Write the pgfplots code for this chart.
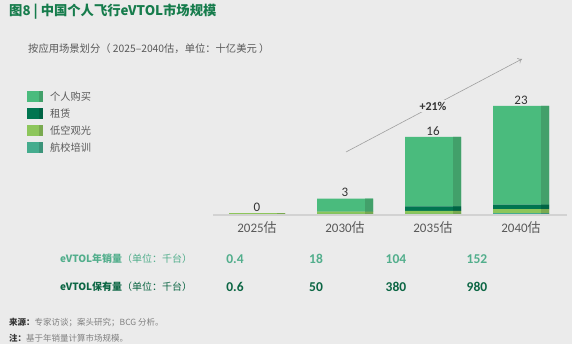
\documentclass[border=0pt]{standalone}
\usepackage{fontspec}
\setmainfont{Carlito}
\newfontfamily\cjk{Noto Sans CJK SC}
\usepackage{pgfplots}
\pgfplotsset{compat=1.18}
\usetikzlibrary{arrows.meta}
\definecolor{bg}{RGB}{235,235,235}
\definecolor{cPers}{RGB}{74,187,125}
\definecolor{cPersD}{RGB}{66,160,106}
\definecolor{cRent}{RGB}{0,117,80}
\definecolor{cRentD}{RGB}{0,100,68}
\definecolor{cSight}{RGB}{141,198,91}
\definecolor{cSightD}{RGB}{122,170,80}
\definecolor{cTrain}{RGB}{69,172,142}
\definecolor{cTrainD}{RGB}{60,148,122}
\definecolor{titleg}{RGB}{22,124,76}
\definecolor{txt}{RGB}{89,89,89}
\definecolor{dark}{RGB}{51,51,51}
\definecolor{row1}{RGB}{82,174,140}
\definecolor{row2}{RGB}{12,102,68}
\definecolor{axisgray}{RGB}{210,210,210}

\pgfplotstableread{
x train sight rent pers total
0 0.00 0.20 0.00 0.00 0.2
1 0.05 0.43 0.05 2.72 3.25
2 0.05 0.64 0.92 14.79 16.4
3 0.20 0.85 0.92 21.03 23.0
}\datatab

\tikzset{vallab/.style={anchor=south, inner sep=1.5pt, text=dark, font=\fontsize{13}{15}\selectfont}}

\begin{document}
\begin{tikzpicture}[x=1pt,y=1pt]
\fill[bg] (0,0) rectangle (572,344);
\useasboundingbox (0,0) rectangle (572,344);
% baseline
\draw[axisgray, line width=2pt] (213,129) -- (567,129);

\begin{axis}[
  at={(213pt,130pt)}, anchor=south west,
  x=88pt, y=4.7pt, xmin=-0.5, xmax=3.5, ymin=0, ymax=25,
  ybar stacked, bar width=56pt,
  axis y line=none, axis x line*=bottom,
  x axis line style={draw=none},
  xtick={0,1,2,3},
  xticklabels={{2025{\cjk 估}},{2030{\cjk 估}},{2035{\cjk 估}},{2040{\cjk 估}}},
  major tick length=0pt,
  xticklabel style={font=\fontsize{13}{15}\selectfont, text=txt, yshift=-4pt},
  clip=false,
]
\addplot[fill=cTrain, draw=none] table[x=x, y=train] {\datatab};
\addplot[fill=cSight, draw=none] table[x=x, y=sight] {\datatab};
\addplot[fill=cRent, draw=none] table[x=x, y=rent] {\datatab};
\addplot[fill=cPers, draw=none] table[x=x, y=pers] {\datatab};
\end{axis}

\begin{axis}[
  at={(213pt,130pt)}, anchor=south west,
  x=88pt, y=4.7pt, xmin=-0.5, xmax=3.5, ymin=0, ymax=25,
  ybar stacked, bar width=8pt, bar shift=24pt,
  hide axis, clip=false,
]
\addplot[fill=cTrainD, draw=none] table[x=x, y=train] {\datatab};
\addplot[fill=cSightD, draw=none] table[x=x, y=sight] {\datatab};
\addplot[fill=cRentD, draw=none] table[x=x, y=rent] {\datatab};
\addplot[fill=cPersD, draw=none] table[x=x, y=pers] {\datatab};
\node[vallab] at (axis cs:0,0.2) {0};
\node[vallab] at (axis cs:1,3.25) {3};
\node[vallab] at (axis cs:2,16.4) {16};
\node[vallab] at (axis cs:3,23.0) {23};
\end{axis}

% title
\node[anchor=west, inner sep=0, text=titleg, font=\cjk\bfseries\fontsize{13.3}{15}\selectfont] at (9,332) {图8 | 中国个人飞行eVTOL市场规模};
\node[anchor=west, inner sep=0, text=txt, font=\cjk\fontsize{10.3}{12}\selectfont] at (28,295) {按应用场景划分（ 2025–2040估，单位：十亿美元 ）};

% legend
\foreach \c/\cd/\yy/\lab in {cPers/cPersD/247/个人购买, cRent/cRentD/230/租赁, cSight/cSightD/213/低空观光, cTrain/cTrainD/196/航校培训}{
  \fill[\c] (27,\yy-5.5) rectangle (39,\yy+5.5);
  \fill[\cd] (39,\yy-5.5) rectangle (43,\yy+5.5);
  \node[anchor=west, inner sep=0, text=txt, font=\cjk\fontsize{10.2}{12}\selectfont] at (50,\yy) {\lab};
}

% growth arrow
\draw[gray!75, line width=0.6pt, -{To[length=4pt,width=6pt]}] (346,192) -- (522,285);
\node[fill=bg, inner sep=2pt, text=dark, font=\bfseries\fontsize{12}{14}\selectfont] at (433,238) {+21\%};

% table rows
\node[anchor=west, inner sep=0, text=row1, font=\cjk\fontsize{10}{12}\selectfont] at (60,85) {{\bfseries eVTOL年销量}（单位：千台）};
\node[anchor=west, inner sep=0, text=row2, font=\cjk\fontsize{10}{12}\selectfont] at (60,57) {{\bfseries eVTOL保有量}（单位：千台）};
\foreach \xx/\a/\b in {235/0.4/0.6, 316/18/50, 396/104/380, 477/152/980}{
  \node[inner sep=0, text=row1, font=\bfseries\fontsize{13.5}{15}\selectfont] at (\xx,85) {\a};
  \node[inner sep=0, text=row2, font=\bfseries\fontsize{13.5}{15}\selectfont] at (\xx,57) {\b};
}

% footnotes
\node[anchor=west, inner sep=0, text=gray, font=\cjk\fontsize{8.5}{10}\selectfont] at (9,21) {{\bfseries\color{dark}来源：}专家访谈；案头研究；BCG 分析。};
\node[anchor=west, inner sep=0, text=gray, font=\cjk\fontsize{8.5}{10}\selectfont] at (9,6) {{\bfseries\color{dark}注：}基于年销量计算市场规模。};
\end{tikzpicture}
\end{document}
